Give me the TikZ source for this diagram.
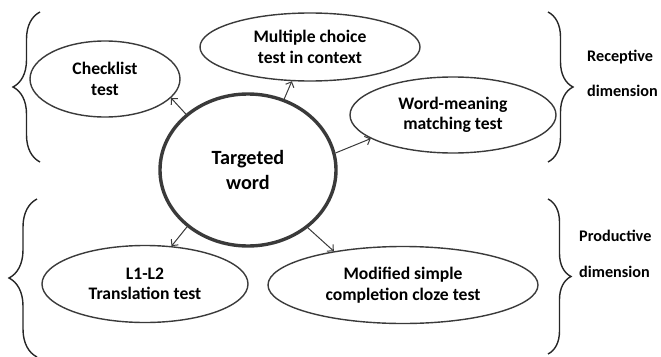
\documentclass[tikz,border=0pt]{standalone}
\usepackage{fontspec}
\setmainfont{Carlito}
\usetikzlibrary{shapes.geometric,decorations.pathreplacing,arrows.meta}
\definecolor{linegray}{HTML}{3A3A3A}
\begin{document}
\begin{tikzpicture}[x=1pt,y=-1pt,
  oval/.style={ellipse,draw=linegray,line width=1.4pt,inner sep=0pt,align=center,
    font=\fontsize{17.6}{20.5}\selectfont\bfseries},
  hub/.style={ellipse,draw=linegray,line width=3.4pt,inner sep=0pt,align=center,
    font=\fontsize{20.2}{25}\selectfont\bfseries},
  conn/.style={draw=linegray,line width=1pt,-{Straight Barb[length=4.5pt,width=9pt]}},
  brc/.style={draw=black!85,line width=1.4pt,decorate,decoration={brace,amplitude=#1}},
  dimlabel/.style={anchor=west,inner sep=0pt,font=\fontsize{16.2}{19}\selectfont\bfseries}]
\useasboundingbox (0,0) rectangle (661,356);
\node[hub,minimum width=176,minimum height=152] (tw) at (248,170) {Targeted\\word};
\node[oval,minimum width=150,minimum height=76] (ck) at (105,79) {Checklist\\test};
\node[oval,minimum width=220,minimum height=68] (mc) at (310,47) {Multiple choice\\test in context};
\node[oval,minimum width=206,minimum height=76] (wm) at (453,115) {Word-meaning\\matching test};
\node[oval,minimum width=206,minimum height=77] (tr) at (145,284) {L1-L2\\Translation test};
\node[oval,minimum width=270,minimum height=77] (cz) at (403,285) {Modified simple\\completion cloze test};
\draw[conn] (tw.138) -- (ck.344);
\draw[conn] (tw.63) -- (mc.242);
\draw[conn] (tw.11) -- (wm.196);
\draw[conn] (tw.223) -- (tr.55);
\draw[conn] (tw.316) -- (cz.154);
\draw[brc=27pt] (40,162) -- (40,12);
\draw[brc=25pt] (548,12) -- (548,162);
\draw[brc=28pt] (37,357) -- (37,199);
\draw[brc=23pt] (548,199) -- (548,354);
\node[dimlabel] (rc1) at (587,57) {Receptive};
\node[dimlabel] (rc2) at (587,91) {dimension};
\node[dimlabel] (pd1) at (579,236) {Productive};
\node[dimlabel] (pd2) at (579,272) {dimension};
\end{tikzpicture}
\end{document}
